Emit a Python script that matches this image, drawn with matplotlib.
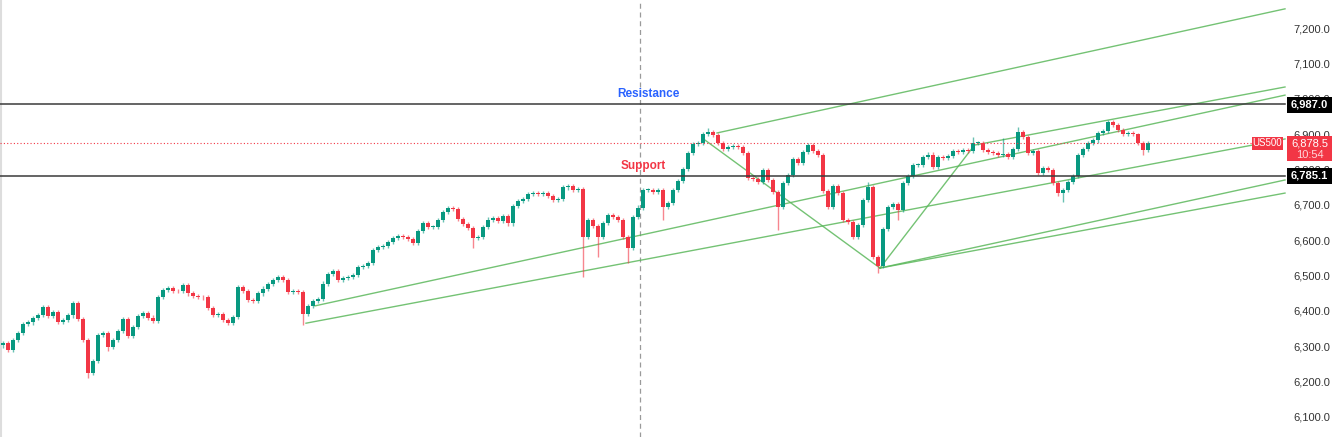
# US500 hourly chart with support / resistance and trend channels
import matplotlib
matplotlib.use("Agg")
import matplotlib.pyplot as plt
from matplotlib.patches import Rectangle

# DATA

# closing prices, one candle per step (open = previous close)
closes = [
    6311, 6292, 6320, 6340, 6365, 6370, 6383, 6392, 6414, 6388,
    6400, 6371, 6378, 6390, 6425, 6380, 6320, 6227, 6262, 6335,
    6340, 6301, 6320, 6345, 6380, 6332, 6357, 6388, 6397, 6384,
    6375, 6442, 6462, 6467, 6460, 6458, 6476, 6452, 6445, 6443,
    6441, 6410, 6392, 6395, 6378, 6369, 6386, 6469, 6458, 6434,
    6430, 6452, 6466, 6478, 6490, 6498, 6490, 6456, 6460, 6456,
    6395, 6416, 6430, 6436, 6480, 6508, 6515, 6490, 6496, 6499,
    6504, 6526, 6530, 6538, 6575, 6584, 6586, 6598, 6609, 6614,
    6611, 6606, 6595, 6628, 6650, 6640, 6640, 6660, 6683, 6694,
    6690, 6662, 6648, 6637, 6609, 6612, 6640, 6661, 6665, 6658,
    6672, 6650, 6700, 6714, 6720, 6733, 6735, 6734, 6735, 6728,
    6716, 6720, 6752, 6755, 6746, 6748, 6612, 6660, 6643, 6612,
    6651, 6675, 6668, 6660, 6612, 6580, 6668, 6695, 6745, 6745,
    6739, 6745, 6697, 6708, 6745, 6770, 6805, 6850, 6875, 6878,
    6902, 6909, 6900, 6878, 6862, 6866, 6870, 6866, 6850, 6778,
    6775, 6767, 6801, 6773, 6739, 6697, 6764, 6787, 6832, 6821,
    6852, 6872, 6855, 6844, 6742, 6697, 6756, 6736, 6660, 6655,
    6612, 6645, 6716, 6753, 6555, 6530, 6635, 6697, 6705, 6688,
    6764, 6785, 6815, 6815, 6838, 6845, 6810, 6838, 6835, 6840,
    6855, 6852, 6858, 6855, 6878, 6878, 6858, 6852, 6849, 6844,
    6846, 6838, 6860, 6909, 6895, 6849, 6855, 6792, 6807, 6801,
    6764, 6735, 6745, 6767, 6785, 6844, 6860, 6878, 6885, 6906,
    6912, 6937, 6929, 6915, 6902, 6906, 6903, 6878, 6858, 6878.5,
]
first_open = 6305

# long wicks (candle index -> extreme price)
spike_lows = {17: 6213, 21: 6290, 60: 6363, 94: 6580, 116: 6499, 119: 6555,
              125: 6538, 132: 6660, 155: 6632, 175: 6510, 179: 6660,
              212: 6712, 228: 6845}
spike_highs = {66: 6520, 141: 6920, 173: 6767, 194: 6895, 200: 6892,
               203: 6923, 227: 6905}

resistance = 6987.0
support = 6785.1
last_price = 6878.5
countdown = "10:54"
symbol = "US500"
price_ticks = [7200, 7100, 7000, 6900, 6800, 6700, 6600, 6500, 6400, 6300, 6200, 6100]

# trend lines as (candle index, price) pairs
trend_lines = [
    ((60.6, 6368), (256.4, 6889)),
    ((62.4, 6417), (256.4, 7013)),
    ((142.8, 6906), (256.4, 7257)),
    ((139.8, 6892), (175.4, 6524)),
    ((175.4, 6524), (194.0, 6866)),
    ((194.4, 6872), (256.4, 7036)),
    ((175.4, 6524), (256.4, 6773)),
    ((175.4, 6524), (256.4, 6736)),
]
session_break = 127.4

# STYLE

UP = "#089981"
DOWN = "#f23645"
GREEN_LINE = "#5cb85c"
W, H = 1336, 437


# pixel helpers for placing labels
def px_x(px):
    return (px - 3) / 5.0


def px_y(py):
    return 7200 - (py - 29) * 100 / 35.36


fig = plt.figure(figsize=(W / 100, H / 100), dpi=100)
ax = fig.add_axes([0, 0, 1, 1])
ax.set_xlim(px_x(0), px_x(W))
ax.set_ylim(px_y(H), px_y(0))
ax.axis("off")

# faint pane border on the left
ax.axvline(px_x(0.8), color="#dddddd", lw=1.5, zorder=1)

# candles
opens = [first_open] + closes[:-1]
for i, (o, c) in enumerate(zip(opens, closes)):
    col = UP if c >= o else DOWN
    hi = spike_highs.get(i, max(o, c) + 6)
    lo = spike_lows.get(i, min(o, c) - 6)
    ax.vlines(i, lo, hi, color=col, lw=1.0, alpha=0.6, zorder=3)
    body = max(abs(c - o), 2)
    ax.bar(i, body, bottom=min(o, c), width=0.8, color=col, zorder=4, lw=0)

# channels
for (x0, y0), (x1, y1) in trend_lines:
    ax.plot([x0, x1], [y0, y1], color=GREEN_LINE, lw=1.0, alpha=0.85, zorder=2)

# levels
right_end = px_x(1285)
for lvl in (resistance, support):
    ax.plot([px_x(0), right_end], [lvl, lvl], color="#3a3a3a", lw=1.1, zorder=5)
ax.plot([px_x(0), px_x(1252)], [last_price, last_price], color=DOWN,
        lw=0.8, ls=(0, (1, 2)), zorder=5)
ax.axvline(session_break, color="#9a9a9a", lw=0.9, ls=(0, (4, 3)), zorder=1)

ax.text(px_x(648), px_y(94), "Resistance", color="#2962ff", fontsize=8.5,
        fontweight="bold", ha="center", va="center", family="Liberation Sans")
ax.text(px_x(643), px_y(166), "Support", color=DOWN, fontsize=8.5,
        fontweight="bold", ha="center", va="center", family="Liberation Sans")

# price scale
for p in price_ticks:
    ax.text(px_x(1293), p, f"{p:,.1f}", color="#333333", fontsize=8,
            ha="left", va="center", family="Liberation Sans", zorder=6)


def tag(x0, x1, y0, y1, fc):
    ax.add_patch(Rectangle((px_x(x0), px_y(y1)), px_x(x1) - px_x(x0),
                           px_y(y0) - px_y(y1), fc=fc, ec="none", zorder=7))


tag(1287, 1332, 97, 113, "black")
ax.text(px_x(1309.5), resistance, f"{resistance:,.1f}", color="white",
        fontsize=8, fontweight="bold", ha="center", va="center",
        family="Liberation Sans", zorder=8)
tag(1287, 1332, 168, 184, "black")
ax.text(px_x(1309.5), support, f"{support:,.1f}", color="white",
        fontsize=8, fontweight="bold", ha="center", va="center",
        family="Liberation Sans", zorder=8)
tag(1287, 1332, 136, 161, DOWN)
ax.text(px_x(1309.5), px_y(143), f"{last_price:,.1f}", color="white",
        fontsize=8, ha="center", va="center", family="Liberation Sans", zorder=8)
ax.text(px_x(1309.5), px_y(155), countdown, color="#ffd6d9",
        fontsize=8, ha="center", va="center", family="Liberation Sans", zorder=8)
tag(1252, 1283, 137, 150, DOWN)
ax.text(px_x(1267.5), px_y(143.5), symbol, color="white", fontsize=7,
        ha="center", va="center", family="Liberation Sans", zorder=8)

fig.savefig("out.png", dpi=100, facecolor="white")
